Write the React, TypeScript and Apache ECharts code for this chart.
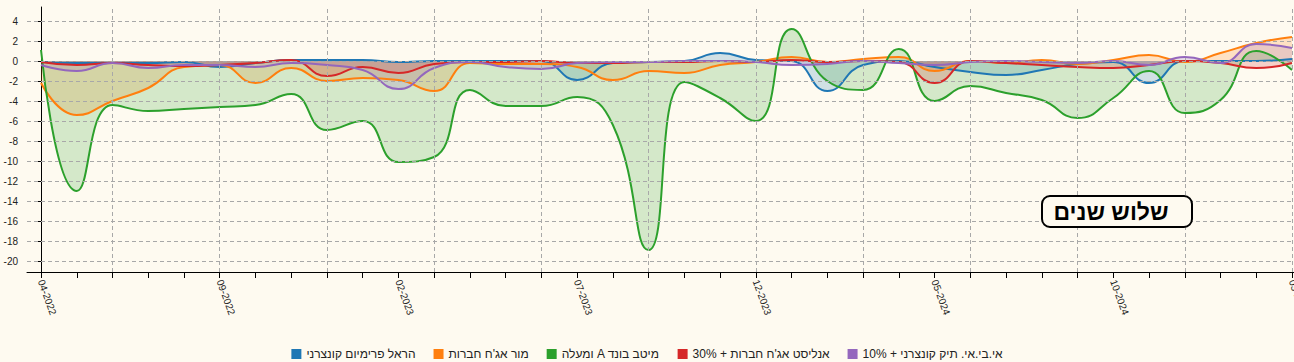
import React, { useEffect, useRef } from "react";
import * as echarts from "echarts";

const monthLabels = [
  "04-2022", "05-2022", "06-2022", "07-2022", "08-2022", "09-2022", "10-2022", "11-2022", "12-2022",
  "01-2023", "02-2023", "03-2023", "04-2023", "05-2023", "06-2023", "07-2023", "08-2023", "09-2023",
  "10-2023", "11-2023", "12-2023", "01-2024", "02-2024", "03-2024", "04-2024", "05-2024", "06-2024",
  "07-2024", "08-2024", "09-2024", "10-2024", "11-2024", "12-2024", "01-2025", "02-2025", "03-2025",
];

const seriesNames = [
  "הראל פרימיום קונצרני",
  "מור אג'ח חברות",
  "ומעלה A מיטב בונד",
  "אנליסט אג'ח חברות + 30%",
  "אי.בי.אי. תיק קונצרני + 10%",
];

const harel = [
  -0.1, -0.2, -0.2, -0.2, -0.1, -0.6, -0.2, 0.1, 0.1, 0.1, -0.1, 0.0,
  0.0, 0.0, 0.0, -1.9, -0.2, -0.1, 0.0, 0.8, 0.1, 0.0, -3.0, -0.4,
  0.0, -0.6, -1.1, -1.4, -0.9, -0.3, -0.1, -2.2, 0.0, 0.0, 0.0, 0.2,
];
const mor = [
  -2.2, -5.4, -4.0, -2.7, -0.6, -0.4, -2.2, -0.7, -2.0, -1.7, -1.9, -3.0,
  -0.2, -0.3, -0.3, -0.6, -1.9, -1.0, -1.2, -0.4, -0.1, 0.4, -0.1, 0.2,
  0.4, -1.0, 0.0, -0.2, 0.1, -0.3, 0.1, 0.6, -0.1, 0.8, 1.8, 2.4,
];
const meitav = [
  1.1, -13.0, -4.4, -5.0, -4.8, -4.6, -4.4, -3.3, -6.9, -6.0, -10.1, -9.6,
  -2.9, -4.5, -4.5, -3.6, -6.4, -18.9, -2.1, -3.7, -6.0, 3.2, -2.0, -2.9,
  1.2, -4.0, -2.5, -3.2, -3.9, -5.7, -3.7, -1.0, -5.2, -3.9, 1.0, -0.9,
];
const analyst = [
  -0.1, -0.4, -0.2, -0.4, -0.5, -0.4, -0.2, 0.1, -1.5, -0.6, -1.2, -0.3,
  -0.1, -0.1, 0.0, -0.2, -0.2, -0.1, -0.1, 0.0, -0.1, 0.1, -0.1, 0.0,
  -0.1, -2.2, 0.0, -0.2, -0.4, -0.6, -0.7, -0.4, 0.0, -0.2, -0.7, -0.2,
];
const ibi = [
  -0.4, -1.0, -0.2, -0.7, -0.4, -0.4, -0.6, -0.2, -0.4, -0.9, -2.8, -0.7,
  -0.1, -0.6, -0.8, -0.2, -0.1, -0.1, 0.0, 0.0, -0.1, -0.4, -0.3, 0.0,
  -0.2, -0.4, -0.1, 0.0, -0.1, -0.2, 0.0, -0.4, 0.4, -0.2, 1.7, 1.3,
];

const seriesValues = [harel, mor, meitav, analyst, ibi];
const seriesColors = ["#1f77b4", "#ff7f0e", "#2ca02c", "#d62728", "#9467bd"];

const yTickValues = [-20, -18, -16, -14, -12, -10, -8, -6, -4, -2, 0, 2, 4];
const xGridMonths = [2, 5, 8, 11, 14, 17, 20, 23, 26, 29, 32, 35];
const xLabelMonths = [0, 5, 10, 15, 20, 25, 30, 35];
const titleText = "שלוש שנים";

const BG = "#fefaf0";
const FONT = 'Arial, "Liberation Sans", sans-serif';
const W = 1294;
const H = 362;

export default function App() {
  const ref = useRef<HTMLDivElement>(null);

  useEffect(() => {
    document.body.style.margin = "0";
    document.body.style.overflow = "hidden";
    document.body.style.background = BG;

    const chart = echarts.init(ref.current!, null, { renderer: "svg", width: W, height: H });

    const dataSeries = seriesNames.map((name, si) => ({
      name,
      type: "line",
      smooth: 0.5,
      showSymbol: false,
      symbol: "none",
      z: 3,
      data: seriesValues[si].map((v, i) => [i, v]),
      lineStyle: { width: 2, color: seriesColors[si] },
      itemStyle: { color: seriesColors[si] },
      areaStyle: { origin: 0, color: seriesColors[si], opacity: 0.2 },
    }));

    const gridSeries = {
      name: "__grid",
      type: "line",
      data: [],
      silent: true,
      z: 1,
      markLine: {
        silent: true,
        animation: false,
        symbol: ["none", "none"],
        label: { show: false },
        emphasis: { disabled: true },
        lineStyle: { color: "#a8a8a8", type: [4, 3], width: 1 },
        data: [
          ...xGridMonths.map((m) => ({ xAxis: m })),
          ...yTickValues.map((v) => ({ yAxis: v })),
        ],
      },
    };

    chart.setOption({
      animation: false,
      backgroundColor: BG,
      textStyle: { fontFamily: FONT },
      grid: {
        left: 27,
        right: 0,
        top: 7,
        bottom: 90,
        containLabel: false,
        outerBoundsMode: "none",
      },
      legend: {
        data: seriesNames,
        left: "center",
        top: 343,
        icon: "rect",
        itemWidth: 10,
        itemHeight: 10,
        itemGap: 18,
        textStyle: { fontSize: 12, color: "#222", fontFamily: FONT },
      },
      xAxis: {
        type: "value",
        min: -0.392,
        max: 35.056,
        splitNumber: 36,
        minInterval: 1,
        maxInterval: 1,
        axisLine: { show: true, onZero: false, lineStyle: { color: "#000", width: 1 } },
        axisTick: { show: true, length: 6, lineStyle: { color: "#000" } },
        splitLine: { show: false },
        axisLabel: {
          rotate: -70,
          margin: 8,
          fontSize: 10,
          color: "#222",
          showMinLabel: false,
          showMaxLabel: false,
          formatter: (v: number) =>
            xLabelMonths.includes(v) ? monthLabels[v] : "",
        },
      },
      yAxis: {
        type: "value",
        min: -21.1,
        max: 5.4,
        splitNumber: 13,
        minInterval: 2,
        maxInterval: 2,
        axisLine: { show: true, lineStyle: { color: "#000", width: 1 } },
        axisTick: { show: true, length: 6, lineStyle: { color: "#000" } },
        splitLine: { show: false },
        axisLabel: {
          margin: 9,
          fontSize: 10,
          color: "#222",
          showMinLabel: false,
          showMaxLabel: false,
          formatter: (v: number) => (yTickValues.includes(v) ? String(v) : ""),
        },
      },
      graphic: [
        {
          type: "rect",
          z: 100,
          shape: { x: 1042, y: 196, width: 150, height: 31, r: 8 },
          style: { fill: BG, stroke: "#000", lineWidth: 2 },
        },
        {
          type: "text",
          z: 101,
          x: 1111,
          y: 212,
          style: {
            text: titleText,
            font: `bold 23px ${FONT}`,
            fill: "#000",
            align: "center",
            verticalAlign: "middle",
            textAlign: "center",
            textVerticalAlign: "middle",
          },
        },
      ],
      series: [gridSeries, ...dataSeries],
    });

    return () => chart.dispose();
  }, []);

  return <div ref={ref} style={{ width: W, height: H, background: BG, overflow: "hidden" }} />;
}
